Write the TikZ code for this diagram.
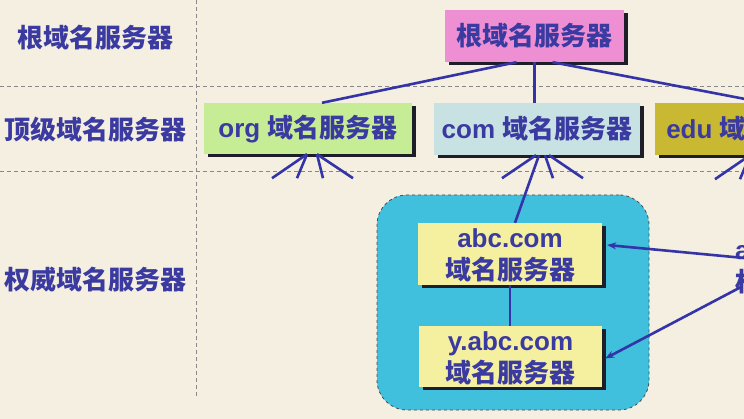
\documentclass[tikz,border=0pt]{standalone}
\usepackage{fontspec}
\setmainfont{Liberation Sans}
\newfontfamily\cjk{Noto Sans CJK SC}
\newcommand\C[1]{{\cjk #1}}
\usetikzlibrary{shadows,calc,arrows.meta}
\definecolor{bg}{RGB}{244,239,224}
\definecolor{txt}{RGB}{58,58,160}
\definecolor{ln}{RGB}{52,52,168}
\definecolor{gridc}{RGB}{135,135,140}
\definecolor{shd}{RGB}{30,30,40}
\definecolor{pinkf}{RGB}{238,143,212}
\definecolor{greenf}{RGB}{198,236,150}
\definecolor{bluef}{RGB}{200,226,228}
\definecolor{olivef}{RGB}{200,184,50}
\definecolor{cyanf}{RGB}{64,192,220}
\definecolor{yellowf}{RGB}{245,240,160}
\begin{document}
\begin{tikzpicture}[x=1pt,y=-1pt,
  lbl/.style={text=txt,font=\fontsize{26}{32}\selectfont\bfseries,inner sep=0pt,
    text height=22pt,text depth=3pt},
  two/.style={text height=54pt},
  srv/.style={lbl,align=center,
    general shadow={fill=shd,shadow xshift=4pt,shadow yshift=-3pt}},
  conn/.style={draw=ln,line width=2.6pt},
  arr/.style={conn,-{Stealth[length=9pt,width=7pt]}},
  gridline/.style={draw=gridc,line width=1pt,dash pattern=on 4pt off 3pt}]
\useasboundingbox (0,0) rectangle (744,419);
\clip (0,0) rectangle (744,419);
\fill[bg] (0,0) rectangle (744,419);
% grid
\draw[gridline] (0,87) -- (744,87);
\draw[gridline] (0,172) -- (744,172);
\draw[gridline] (196,0) -- (196,397);
% row labels
\node[lbl] (l1) at (95,38) {\C{根域名服务器}};
\node[lbl] (l2) at (96,130) {\C{顶级域名服务器}};
\node[lbl] (l3) at (96,280) {\C{权威域名服务器}};
% zone
\node[draw=shd!80,dashed,line width=0.8pt,fill=cyanf,rounded corners=30pt,
  minimum width=272,minimum height=215,inner sep=0pt] (zone) at (513,302.5) {};
% servers
\node[srv,fill=pinkf,minimum width=179,minimum height=52] (root) at (534.5,36) {\C{根域名服务器}};
\node[srv,fill=greenf,minimum width=208,minimum height=51] (org) at (308,128.5) {org \C{域名服务器}};
\node[srv,fill=bluef,minimum width=206,minimum height=52] (com) at (537,129) {com \C{域名服务器}};
\node[srv,fill=olivef,minimum width=206,minimum height=52] (edu) at (758,129) {edu \C{域名服务器}};
\node[srv,two,fill=yellowf,minimum width=184,minimum height=62] (abc) at (510,254) {abc.com\\\C{域名服务器}};
\node[srv,two,fill=yellowf,minimum width=183,minimum height=61] (yabc) at (510.5,356.5) {y.abc.com\\\C{域名服务器}};
\node[lbl,two,anchor=west,align=left] (rt) at (735,266) {a\\\C{权}};
% root connectors
\draw[conn] ($(root.south)+(-18,0)$) -- ($(org.north)+(14,0)$);
\draw[conn] (root.south) -- (com.north -| root.south);
\draw[conn] ($(root.south)+(18,0)$) -- ($(edu.north)+(7,0)$);
% fans
\foreach \s/\d in {-1/-35,-1/-10,9/6,9/36}
  \draw[conn] ($(org.south)+(\s,0)$) -- ++(\d,24);
\foreach \s/\d in {-1/-34,8/8,12/34}
  \draw[conn] ($(com.south)+(\s,0)$) -- ++(\d,23);
\draw[conn] ($(com.south)+(2,0)$) -- ($(abc.north)+(5,0)$);
\foreach \s/\d in {-8/-35,-8/-10,2/6,2/36}
  \draw[conn] ($(edu.south)+(\s,0)$) -- ++(\d,24);
% inside zone
\draw[conn] (abc.south) -- (yabc.north -| abc.south);
% arrows from right node
\coordinate (a1) at ($(rt.west)+(9,-8)$);
\coordinate (a2) at ($(rt.west)+(6,21)$);
\draw[arr] (a1) -- ($(abc.east)+(5,-9)$);
\draw[arr] (a2) -- ($(yabc.east)+(3,2)$);
\end{tikzpicture}
\end{document}
